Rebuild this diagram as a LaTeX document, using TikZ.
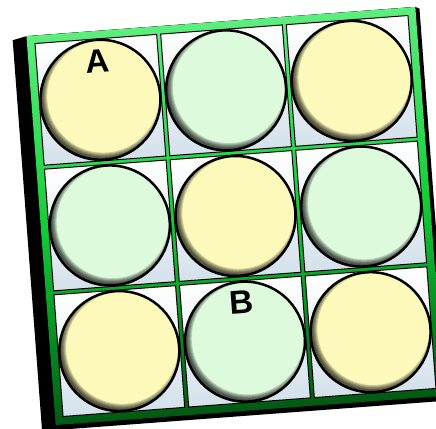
\documentclass[tikz,border=0pt]{standalone}
\usepackage{fontspec}
\newfontfamily\labfont{Liberation Sans}
\definecolor{cY}{HTML}{FCF9BA}
\definecolor{cG}{HTML}{DDFADD}
\definecolor{frTop}{HTML}{5CEE7E}
\definecolor{frMid}{HTML}{12CC35}
\definecolor{frBot}{HTML}{005A12}
\definecolor{cellBot}{HTML}{D4E1EB}
\tikzset{
  cellbox/.style={draw=black, line width=1pt, top color=white, bottom color=cellBot},
  ballbase/.style={circle, minimum size=120pt, inner sep=0pt, draw=none},
  ballrim/.style={draw=black, line width=2.5pt},
  ballshadow/.style={draw=black, opacity=0.17},
  lab/.style={font=\labfont\bfseries\fontsize{33}{33}\selectfont, inner sep=0pt}
}
\begin{document}
\begin{tikzpicture}[x=1pt,y=1pt]
\useasboundingbox[fill=white] (0,0) rectangle (436,428);
\begin{scope}[transform canvas={shift={(235.5,212)},rotate=4.3}]
  % shadow
  \fill[black] (-195,195) -- (-209,192) -- (-209,-200) -- (199,-200) -- (199,193) -- (195,195) -- cycle;
  % frame
  \fill[top color=frTop, bottom color=frBot, middle color=frMid] (-195,-195) rectangle (195,195);
  % cells
  \foreach \r in {0,1,2} {
    \foreach \c in {0,1,2} {
      \pgfmathsetmacro\cx{-126+126*\c}
      \pgfmathsetmacro\cy{126-126*\r}
      \draw[cellbox] (\cx-61,\cy-61) rectangle (\cx+61,\cy+61);
    }
  }
  % circles
  \foreach \nm/\cx/\cy/\col in {c11/-126/126/cY, c12/0/126/cG, c13/126/126/cY,
                                c21/-126/0/cG, c22/0/0/cY, c23/126/0/cG,
                                c31/-126/-126/cY, c32/0/-126/cG, c33/126/-126/cY} {
    \node[ballbase, fill=\col] (\nm) at (\cx,\cy) {};
    \begin{scope}
      \clip (\nm.center) circle[radius=60pt];
      \foreach \w in {2,4,...,12}
        \draw[ballshadow, line width=\w pt] ([shift={(3pt,3pt)}]\nm.center) circle[radius=62pt];
    \end{scope}
    \draw[ballrim] (\nm.center) circle[radius=60pt];
  }
  % labels
  \node[lab] (A) at (-126,165) {A};
  \node[lab] (B) at (0,-87) {B};
\end{scope}
\end{tikzpicture}
\end{document}
